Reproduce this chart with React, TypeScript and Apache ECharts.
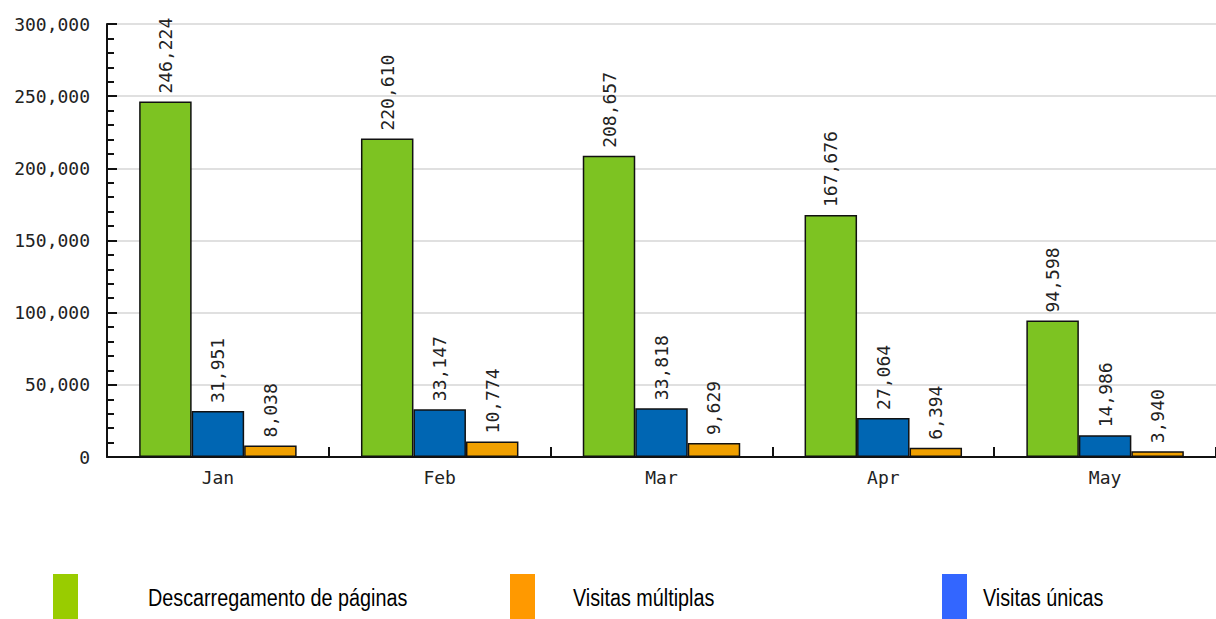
import React, { useEffect, useRef } from "react";
import * as echarts from "echarts";

const categories = ["Jan", "Feb", "Mar", "Apr", "May"];
const downloads = [246224, 220610, 208657, 167676, 94598];
const uniqueVisits = [31951, 33147, 33818, 27064, 14986];
const multipleVisits = [8038, 10774, 9629, 6394, 3940];

const seriesNames = ["Descarregamento de páginas", "Visitas únicas", "Visitas múltiplas"];
const barColors = ["#7dc322", "#0066b3", "#f0a000"];

const legendOrder = [0, 2, 1];
const legendColors = ["#99cc00", "#ff9900", "#3366ff"];
const legendIconX = [53, 510, 942];
const legendTextX = [148, 573, 983];

const fmt = (v: number) => v.toLocaleString("en-US");

export default function App() {
  const ref = useRef<HTMLDivElement>(null);
  useEffect(() => {
    if (!ref.current) return;
    const chart = echarts.init(ref.current, null, { renderer: "svg" });
    const mono = "'DejaVu Sans Mono', monospace";
    const dataSets = [downloads, uniqueVisits, multipleVisits];
    const graphic: any[] = [];
    legendOrder.forEach((si, i) => {
      graphic.push({
        type: "rect",
        x: legendIconX[i],
        y: 574,
        shape: { x: 0, y: 0, width: 25, height: 45 },
        style: { fill: legendColors[i] },
      });
      graphic.push({
        type: "text",
        x: legendTextX[i],
        y: 598,
        scaleX: 0.86,
        originX: 0,
        originY: 0,
        style: {
          text: seriesNames[si],
          fill: "#000",
          verticalAlign: "middle",
          font: "23px 'Liberation Sans', Arial, sans-serif",
        },
      });
    });
    const yBase = {
      type: "value",
      min: 0,
      max: 300000,
      interval: 50000,
      position: "left",
    };
    chart.setOption({
      animation: false,
      backgroundColor: "#fff",
      grid: { left: 107, top: 24, right: 0, bottom: 162, containLabel: false },
      xAxis: {
        type: "category",
        data: categories,
        z: 10,
        axisLine: { show: true, lineStyle: { color: "#111", width: 2 } },
        axisTick: { show: true, inside: true, length: 10, lineStyle: { color: "#111", width: 2 } },
        axisLabel: { color: "#222", fontFamily: mono, fontSize: 18, margin: 11 },
        splitLine: { show: false },
      },
      yAxis: [
        {
          ...yBase,
          axisLine: { show: false },
          axisTick: { show: false },
          axisLabel: { show: false },
          splitLine: { show: true, lineStyle: { color: "#e0e0e0", width: 2 } },
        },
        {
          ...yBase,
          z: 10,
          axisLine: { show: true, onZero: false, lineStyle: { color: "#111", width: 2 } },
          axisTick: { show: true, inside: true, length: 10, lineStyle: { color: "#111", width: 2 } },
          minorTick: { show: true, splitNumber: 5, length: 7, lineStyle: { color: "#111", width: 2 } },
          minorSplitLine: { show: false },
          axisLabel: { color: "#222", fontFamily: mono, fontSize: 18, margin: 17, formatter: (v: number) => fmt(v) },
          splitLine: { show: false },
        },
      ],
      series: dataSets.map((d, i) => ({
        name: seriesNames[i],
        type: "bar",
        yAxisIndex: 0,
        data: d,
        barGap: "0%",
        barCategoryGap: "29%",
        itemStyle: { color: barColors[i], borderColor: "#111", borderWidth: 1.5 },
        label: {
          show: true,
          position: "top",
          rotate: 90,
          align: "left",
          verticalAlign: "middle",
          distance: 8,
          color: "#222",
          fontFamily: mono,
          fontSize: 18,
          formatter: (p: any) => fmt(p.value),
        },
      })),
      graphic,
    });
    return () => chart.dispose();
  }, []);
  return <div ref={ref} style={{ width: 1216, height: 619, position: "absolute", left: 0, top: 0 }} />;
}
